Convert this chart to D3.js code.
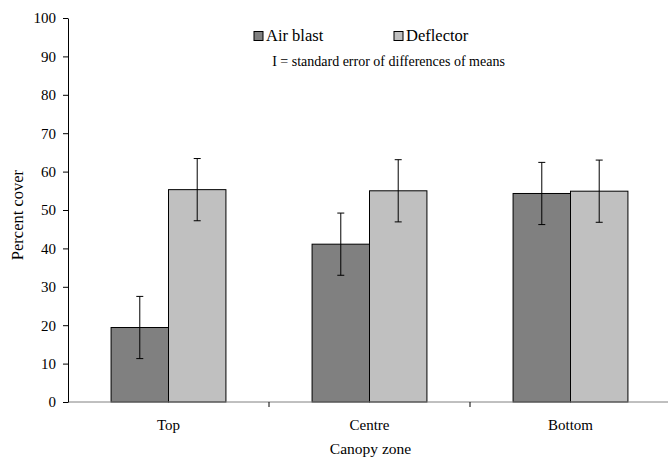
<!DOCTYPE html>
<html>
<head>
<meta charset="utf-8">
<script src="https://cdn.jsdelivr.net/npm/d3@7"></script>
<style>
  body { margin: 0; background: #fff; }
  text { font-family: "Liberation Serif", "Times New Roman", serif; fill: #000; }
</style>
</head>
<body>
<div id="chart"></div>
<script>
// data
var zones = ['Top', 'Centre', 'Bottom'];
var seriesNames = ['Air blast', 'Deflector'];
var airBlast = [19.4, 41.1, 54.3];
var deflector = [55.3, 55.0, 54.9];
var sed = 8.1;
var yTicks = [0, 10, 20, 30, 40, 50, 60, 70, 80, 90, 100];
var colors = ['#808080', '#c0c0c0'];

var width = 668, height = 460,
    margin = {top: 18, right: 0, bottom: 58, left: 68};

var svg = d3.select('#chart').append('svg')
  .attr('width', width).attr('height', height);

var x = d3.scaleBand()
  .domain(zones)
  .range([margin.left, 671]);

var xs = d3.scaleBand()
  .domain(seriesNames)
  .range([0, x.bandwidth()])
  .paddingOuter(0.75);

var y = d3.scaleLinear()
  .domain([0, 100])
  .range([height - margin.bottom, margin.top]);

var rows = [];
zones.forEach(function (z, i) {
  rows.push({zone: z, s: seriesNames[0], v: airBlast[i], c: colors[0]});
  rows.push({zone: z, s: seriesNames[1], v: deflector[i], c: colors[1]});
});

// bars
svg.selectAll('.bar')
  .data(rows)
  .enter().append('rect')
  .attr('class', 'bar')
  .attr('x', d => x(d.zone) + xs(d.s))
  .attr('y', d => y(d.v))
  .attr('width', xs.bandwidth())
  .attr('height', d => y(0) - y(d.v))
  .attr('fill', d => d.c)
  .attr('stroke', '#000')
  .attr('stroke-width', 1);

// error bars
var eb = svg.selectAll('.err')
  .data(rows)
  .enter().append('g')
  .attr('class', 'err')
  .attr('transform', d => 'translate(' + (x(d.zone) + xs(d.s) + xs.bandwidth() / 2) + ',0)');
eb.append('line')
  .attr('y1', d => y(d.v + sed)).attr('y2', d => y(d.v - sed))
  .attr('stroke', '#000');
eb.append('line')
  .attr('x1', -3.5).attr('x2', 3.5)
  .attr('y1', d => y(d.v + sed)).attr('y2', d => y(d.v + sed))
  .attr('stroke', '#000');
eb.append('line')
  .attr('x1', -3.5).attr('x2', 3.5)
  .attr('y1', d => y(d.v - sed)).attr('y2', d => y(d.v - sed))
  .attr('stroke', '#000');

// x axis
var xAxis = svg.append('g')
  .attr('transform', 'translate(0,' + y(0) + ')');
xAxis.append('line')
  .attr('x1', margin.left).attr('x2', width)
  .attr('stroke', '#808080');
xAxis.selectAll('.xt')
  .data(zones.slice(1))
  .enter().append('line')
  .attr('x1', d => x(d)).attr('x2', d => x(d))
  .attr('y1', 0).attr('y2', 5)
  .attr('stroke', '#000');
xAxis.selectAll('.xl')
  .data(zones)
  .enter().append('text')
  .attr('x', d => x(d) + x.bandwidth() / 2)
  .attr('y', 28)
  .attr('text-anchor', 'middle')
  .style('font-size', '15px')
  .text(d => d);

// y axis
var yAxis = svg.append('g')
  .attr('transform', 'translate(' + margin.left + ',0)')
  .call(d3.axisLeft(y).tickValues(yTicks).tickSize(5).tickSizeOuter(0).tickPadding(7));
yAxis.attr('font-family', null).attr('font-size', null);
yAxis.select('.domain').attr('stroke', '#000');
yAxis.selectAll('.tick line').attr('stroke', '#000');
yAxis.selectAll('.tick text')
  .style('font-family', '"Liberation Serif", serif')
  .style('font-size', '15px');

// axis titles
svg.append('text')
  .attr('x', x('Centre') + x.bandwidth() / 2 + 1)
  .attr('y', 454)
  .attr('text-anchor', 'middle')
  .style('font-size', '15.5px')
  .text('Canopy zone');
svg.append('text')
  .attr('transform', 'translate(23,215) rotate(-90)')
  .attr('text-anchor', 'middle')
  .style('font-size', '16.5px')
  .text('Percent cover');

// legend
var legX = [254, 394];
seriesNames.forEach(function (s, i) {
  svg.append('rect')
    .attr('x', legX[i]).attr('y', 31.5)
    .attr('width', 9).attr('height', 9)
    .attr('fill', colors[i]).attr('stroke', '#000');
  svg.append('text')
    .attr('x', legX[i] + 12).attr('y', 41)
    .style('font-size', '16.5px')
    .text(s);
});
svg.append('text')
  .attr('x', 388.5).attr('y', 66)
  .attr('text-anchor', 'middle')
  .style('font-size', '14px')
  .text('I = standard error of differences of means');
</script>
</body>
</html>
